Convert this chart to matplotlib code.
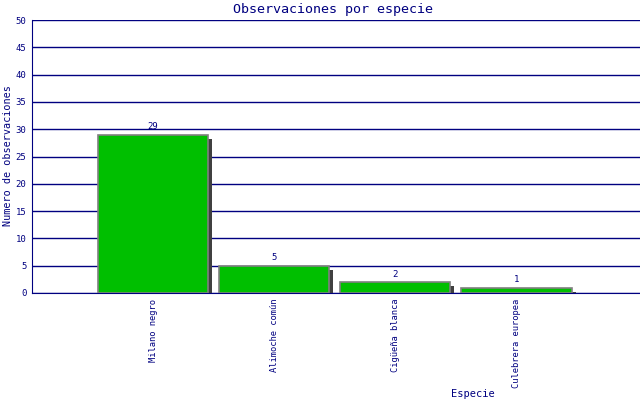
import matplotlib
matplotlib.use("Agg")
import matplotlib.pyplot as plt
import matplotlib.transforms as mtransforms

especies = ["Milano negro", "Alimoche común", "Cigüeña blanca", "Culebrera europea"]
observaciones = [29, 5, 2, 1]
y_ticks = [0, 5, 10, 15, 20, 25, 30, 35, 40, 45, 50]

navy = "#000080"
fig = plt.figure(figsize=(6.4, 4.0), dpi=100)
ax = fig.add_axes([0.05, 0.2675, 0.95, 0.6825])

pos = list(range(1, len(especies) + 1))
shadow = mtransforms.offset_copy(ax.transData, fig=fig, x=4, y=-4, units="dots")
ax.bar(pos, observaciones, width=0.91, color="#404040", transform=shadow, zorder=2)
ax.bar(pos, observaciones, width=0.91, color="#00bf00", edgecolor="#808080",
       linewidth=1.2, zorder=3)

for p, v in zip(pos, observaciones):
    ax.text(p, v + 0.6, str(v), ha="center", va="bottom", fontsize=6.5,
            color=navy, family="DejaVu Sans Mono", zorder=4)

ax.set_xlim(0, 5.02)
ax.set_ylim(0, 50)
ax.set_yticks(y_ticks)
ax.set_yticklabels([str(t) for t in y_ticks], fontsize=6.5, color=navy,
                   family="DejaVu Sans Mono")
ax.set_xticks(pos)
ax.set_xticklabels(especies, rotation=90, fontsize=6.3, color=navy,
                   family="DejaVu Sans Mono", va="top")
ax.tick_params(axis="both", length=0, pad=4)
ax.grid(axis="y", color=navy, linewidth=1, zorder=0)
ax.set_axisbelow(True)
for s in ["top", "right"]:
    ax.spines[s].set_visible(False)
ax.spines["left"].set_color(navy)
ax.spines["bottom"].set_color(navy)

fig.text(0.52, 0.977, "Observaciones por especie", ha="center", va="center",
         fontsize=9.6, color=navy, family="DejaVu Sans Mono")
fig.text(0.013, 0.61, "Numero de observaciones", rotation=90, ha="center",
         va="center", fontsize=7.3, color=navy, family="DejaVu Sans Mono")
fig.text(0.739, 0.015, "Especie", ha="center", va="center", fontsize=7.5,
         color=navy, family="DejaVu Sans Mono")

fig.savefig("out.png", dpi=100)
